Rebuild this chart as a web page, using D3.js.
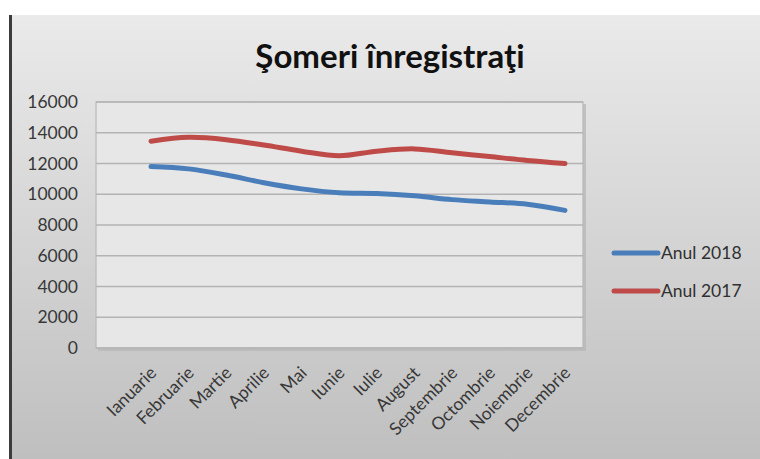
<!DOCTYPE html>
<html><head><meta charset="utf-8">
<script src="https://cdn.jsdelivr.net/npm/d3@7"></script>
<style>body{margin:0;background:#fff;}svg{display:block;}</style>
</head><body>
<svg id="c" width="760" height="459"></svg>
<script>
const months = ["Ianuarie","Februarie","Martie","Aprilie","Mai","Iunie","Iulie","August","Septembrie","Octombrie","Noiembrie","Decembrie"];
const anul2018 = [11800,11650,11250,10750,10350,10100,10050,9900,9650,9500,9350,8950];
const anul2017 = [13450,13700,13550,13200,12800,12500,12800,12950,12700,12450,12200,12000];
const yTicks = [0,2000,4000,6000,8000,10000,12000,14000,16000];
const seriesNames = ["Anul 2018","Anul 2017"];
const seriesColors = ["#4a7ebb","#be4b48"];

const svg = d3.select("#c");
const defs = svg.append("defs");
const g1 = defs.append("linearGradient").attr("id","bg").attr("x1",0).attr("y1",0).attr("x2",0).attr("y2",1);
g1.append("stop").attr("offset","0%").attr("stop-color","#eaeaea");
g1.append("stop").attr("offset","100%").attr("stop-color","#bfbfbf");

// chart background
svg.append("rect").attr("x",12).attr("y",15).attr("width",748).attr("height",444).attr("fill","url(#bg)");
svg.append("rect").attr("x",9).attr("y",15).attr("width",3).attr("height",444).attr("fill","#3c3c3c");

const L=96,R=583,T=102,B=348;
const x = d3.scalePoint().domain(months).range([151,565]);
const y = d3.scaleLinear().domain([0,16000]).range([B,T]);

// plot area shadow and fill
svg.append("rect").attr("x",L+2).attr("y",T+2).attr("width",R-L+1).attr("height",B-T+1).attr("fill","#b8b8b8").attr("opacity",0.8);
svg.append("rect").attr("x",L).attr("y",T).attr("width",R-L).attr("height",B-T).attr("fill","#e7e7e7").attr("stroke","#b9b9b9").attr("stroke-width",1.2);

// gridlines
svg.append("g").selectAll("line").data(yTicks).join("line")
  .attr("x1",L).attr("x2",R).attr("y1",d=>y(d)).attr("y2",d=>y(d))
  .attr("stroke","#b3b3b3").attr("stroke-width",1.5);

// y axis labels
const ya = svg.append("g").attr("transform",`translate(${L},0)`)
  .call(d3.axisLeft(y).tickValues(yTicks).tickSize(0).tickPadding(18).tickFormat(d3.format("d")));
ya.select(".domain").remove();
ya.selectAll("text").attr("font-family","Lato").attr("font-size",17.5).attr("fill","#383838");

// x axis labels
const xa = svg.append("g").attr("transform",`translate(0,${B})`)
  .call(d3.axisBottom(x).tickSize(0).tickFormat(d=>d));
xa.select(".domain").remove();
xa.selectAll("text").attr("font-family","Lato").attr("font-size",17.5).attr("fill","#383838")
  .attr("text-anchor","end").attr("dy",0).attr("y",0)
  .attr("transform","translate(6,26) rotate(-45)");

// lines
const line = d3.line().x((d,i)=>x(months[i])).y(d=>y(d)).curve(d3.curveCatmullRom.alpha(0.5));
[anul2018,anul2017].forEach((s,i)=>{
  svg.append("path").datum(s).attr("d",line).attr("fill","none")
    .attr("stroke",seriesColors[i]).attr("stroke-width",5).attr("stroke-linecap","round").attr("stroke-linejoin","round");
});

// title
svg.append("text").attr("x",390).attr("y",68).attr("text-anchor","middle")
  .attr("font-family","Lato").attr("font-weight","bold").attr("font-size",33).attr("fill","#111")
  .text("Şomeri înregistraţi");

// legend
const lg = svg.append("g");
seriesNames.forEach((n,i)=>{
  const yy = [253,291][i];
  lg.append("line").attr("x1",614).attr("x2",658).attr("y1",yy).attr("y2",yy)
    .attr("stroke",seriesColors[i]).attr("stroke-width",5).attr("stroke-linecap","round");
  lg.append("text").attr("x",661).attr("y",yy+6).attr("font-family","Lato").attr("font-size",17.5).attr("fill","#303030").text(n);
});
</script>
</body></html>
